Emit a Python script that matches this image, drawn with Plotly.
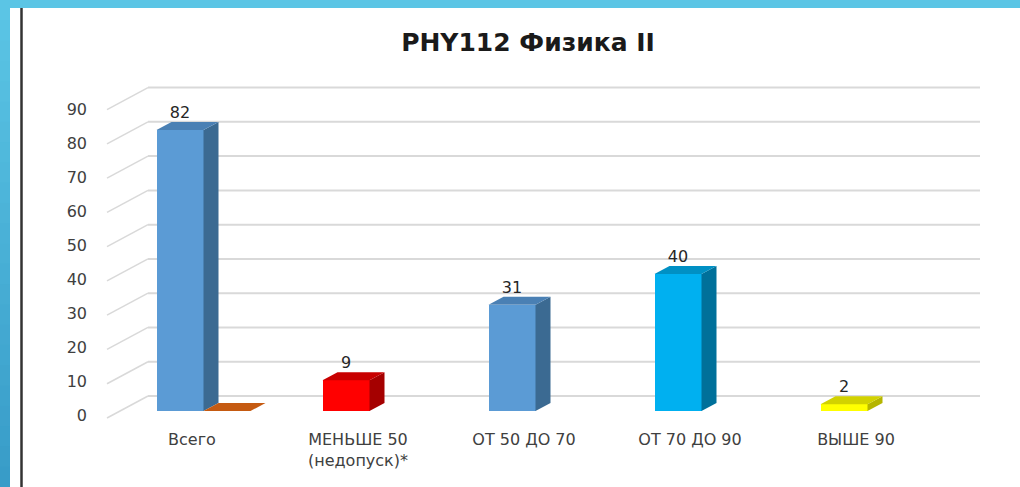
import plotly.graph_objects as go

# ---- data ----
categories = ["Всего", "МЕНЬШЕ 50<br>(недопуск)*", "ОТ 50 ДО 70", "ОТ 70 ДО 90", "ВЫШЕ 90"]
values = [82, 9, 31, 40, 2]
front_colors = ["#5B9BD5", "#FF0000", "#5B9BD5", "#00B0F0", "#FFFF00"]
side_colors = ["#3B6A92", "#A50000", "#3B6A92", "#00709A", "#B5B500"]
top_colors = ["#4A80B4", "#C80000", "#4A80B4", "#0090C4", "#D2D200"]
series2_values = [0]          # second series, shown only for "Всего"
series2_color = "#C55A11"
y_ticks = [0, 10, 20, 30, 40, 50, 60, 70, 80, 90]
title = "PHY112 Физика II"

# ---- layout geometry ----
W, H = 1020, 487
PL, PR, PT, PB = 100, 1000, 60, 422
PX_X = 166.0        # px per category
PX_Y = 3.427        # px per unit (bar plane)
PX_Y2 = 3.4         # px per unit (tick label plane)
x0 = -(180 - PL) / PX_X
x1 = x0 + (PR - PL) / PX_X
y0 = -(PB - 411) / PX_Y
y1 = y0 + (PB - PT) / PX_Y
a2 = -(PB - 415) / PX_Y2
b2 = a2 + (PB - PT) / PX_Y2

bw = 47 / PX_X          # bar width in x units
dx = 15 / PX_X          # depth offset x
dy = 8 / PX_Y           # depth offset y
wall_dy = 15 / PX_Y     # back wall shift up
wall_x0 = x0 + (148 - PL) / PX_X
wall_x1 = x0 + (980 - PL) / PX_X
diag_x = x0 + (107 - PL) / PX_X
diag_dy = 22 / PX_Y

xs = list(range(len(categories)))
fig = go.Figure()

# front faces
fig.add_trace(go.Bar(x=xs, y=values, width=bw, marker=dict(color=front_colors, line=dict(width=0)),
                     hoverinfo="skip", showlegend=False))

shapes = []
# back wall gridlines and floor diagonals
for v in y_ticks:
    shapes.append(dict(type="line", xref="x", yref="y", x0=wall_x0, x1=wall_x1,
                       y0=v + wall_dy, y1=v + wall_dy, line=dict(color="#D9D9D9", width=2), layer="below"))
    shapes.append(dict(type="line", xref="x", yref="y", x0=diag_x, x1=wall_x0,
                       y0=v + wall_dy - diag_dy, y1=v + wall_dy, line=dict(color="#D9D9D9", width=1.5), layer="below"))

def box_faces(xc, v, side_c, top_c):
    l, r = xc - bw / 2, xc + bw / 2
    side = f"M {r},0 L {r+dx},{dy} L {r+dx},{v+dy} L {r},{v} Z"
    top = f"M {l},{v} L {r},{v} L {r+dx},{v+dy} L {l+dx},{v+dy} Z"
    out = []
    if v > 0:
        out.append(dict(type="path", xref="x", yref="y", path=side, fillcolor=side_c,
                        line=dict(width=0), layer="above"))
    out.append(dict(type="path", xref="x", yref="y", path=top, fillcolor=top_c,
                    line=dict(width=0), layer="above"))
    return out

for i, v in enumerate(values):
    shapes += box_faces(xs[i], v, side_colors[i], top_colors[i])
for i, v in enumerate(series2_values):
    shapes += box_faces(xs[i] + bw, v, series2_color, series2_color)

# frame decorations: top band, left gradient band, dark vertical line
def px_to_paper_x(px):
    return (px - PL) / (PR - PL)
def px_to_paper_y(py):
    return (PB - py) / (PB - PT)
shapes.append(dict(type="rect", xref="paper", yref="paper", x0=px_to_paper_x(0), x1=px_to_paper_x(W),
                   y0=px_to_paper_y(8), y1=px_to_paper_y(0), fillcolor="#5BC5E5", line=dict(width=0), layer="above"))
n = 24
c_top = (0x5B, 0xC5, 0xE5)
c_bot = (0x38, 0x9C, 0xC8)
for k in range(n):
    t = k / (n - 1)
    c = tuple(int(round(c_top[j] + (c_bot[j] - c_top[j]) * t)) for j in range(3))
    ya = H * k / n
    yb = H * (k + 1) / n + 1
    shapes.append(dict(type="rect", xref="paper", yref="paper", x0=px_to_paper_x(0), x1=px_to_paper_x(10),
                       y0=px_to_paper_y(yb), y1=px_to_paper_y(ya), fillcolor="rgb(%d,%d,%d)" % c,
                       line=dict(width=0), layer="above"))
shapes.append(dict(type="line", xref="paper", yref="paper", x0=px_to_paper_x(21.5), x1=px_to_paper_x(21.5),
                   y0=px_to_paper_y(H), y1=px_to_paper_y(8), line=dict(color="#333333", width=2.5), layer="above"))

# value labels
fig.add_trace(go.Scatter(x=xs, y=[v + dy for v in values], mode="text", text=[str(v) for v in values],
                         textposition="top center", textfont=dict(family="DejaVu Sans", size=16, color="#262626"),
                         hoverinfo="skip", showlegend=False, cliponaxis=False))
# invisible trace for the tick-label axis
fig.add_trace(go.Scatter(x=[xs[0]], y=[0], yaxis="y2", mode="markers", marker=dict(opacity=0),
                         hoverinfo="skip", showlegend=False))

fig.update_layout(
    width=W, height=H,
    margin=dict(l=PL, r=W - PR, t=PT, b=H - PB),
    paper_bgcolor="white", plot_bgcolor="white",
    title=dict(text="<b>" + title + "</b>", x=528 / W, xanchor="center", y=1 - 42 / H, yanchor="middle",
               font=dict(family="DejaVu Sans", size=25, color="#1A1A1A")),
    xaxis=dict(range=[x0, x1], tickmode="array", tickvals=xs, ticktext=categories,
               showgrid=False, zeroline=False, showline=False, ticks="",
               tickfont=dict(family="DejaVu Sans", size=16, color="#404040"),
               ticklabelstandoff=6, ticklabelshift=12),
    yaxis=dict(range=[y0, y1], showgrid=False, zeroline=False, showline=False, showticklabels=False, ticks=""),
    yaxis2=dict(range=[a2, b2], overlaying="y", side="left", tickmode="array", tickvals=y_ticks,
                showgrid=False, zeroline=False, showline=False, ticks="",
                tickfont=dict(family="DejaVu Sans", size=16, color="#404040"), ticklabelstandoff=12),
    shapes=shapes,
    bargap=0,
)

fig.write_html("out.html", config={"displayModeBar": False},
               post_script="document.body.style.margin='0';document.body.style.padding='0';")
